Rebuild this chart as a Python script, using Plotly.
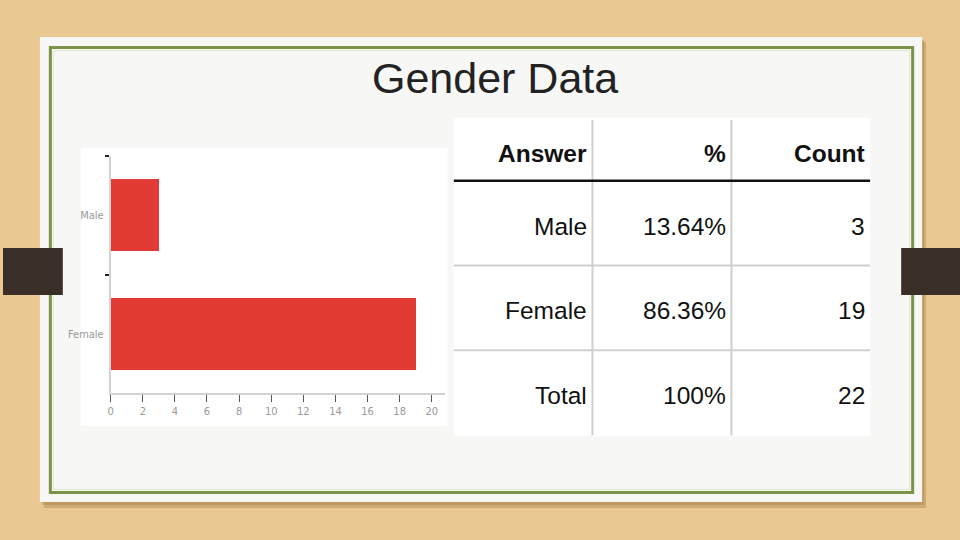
import plotly.graph_objects as go

# ---------------- data ----------------
answers = ["Male", "Female"]
counts = [3, 19]
x_ticks = [0, 2, 4, 6, 8, 10, 12, 14, 16, 18, 20]

table_header = ["Answer", "%", "Count"]
table_answer = ["Male", "Female", "Total"]
table_pct = ["13.64%", "86.36%", "100%"]
table_count = ["3", "19", "22"]

title_text = "Gender Data"

# ---------------- helpers ----------------
W, H = 960, 540


def px(x):
    return x / W


def py(y):
    return 1 - y / H


def rect(x0, y0, x1, y1, fill=None, line=None, lw=0, layer="below"):
    d = dict(type="rect", xref="paper", yref="paper",
             x0=px(x0), x1=px(x1), y0=py(y1), y1=py(y0), layer=layer,
             line=dict(width=lw, color=line or "rgba(0,0,0,0)"))
    if fill:
        d["fillcolor"] = fill
    return d


shapes = []
# panel shadow
shapes.append(rect(41, 42, 926, 508, fill="rgba(160,120,60,0.35)"))
shapes.append(rect(39, 40, 924, 505, fill="rgba(160,120,60,0.35)"))
# panel
shapes.append(rect(37, 37, 922, 502, fill="#f7f7f6"))
# green frame
shapes.append(rect(47.5, 47.5, 912.5, 492.5, line="#7b9346", lw=3))
shapes.append(rect(50.5, 50.5, 909.5, 489.5, line="#dfe8cf", lw=1))
# side tabs
shapes.append(rect(0, 248, 60, 295, fill="#3a2e28"))
shapes.append(rect(901, 248, 960, 295, fill="#3a2e28"))
# chart image white box
shapes.append(rect(78, 148, 446, 426, fill="#ffffff"))
# table white box
shapes.append(rect(452, 118, 870, 436, fill="#ffffff"))

# table grid, in table axis units (columns 0..3, rows centred on 1,2,3)
hdr_top = 0.5 - 61 / 85
tbl_bottom = 3.5 + 0.5 / 85
for cx in [1, 2]:
    shapes.append(dict(type="line", xref="x2", yref="y2", x0=cx, x1=cx,
                       y0=hdr_top, y1=tbl_bottom, layer="above",
                       line=dict(color="#cfcfcf", width=2)))
for ry in [1.5, 2.5]:
    shapes.append(dict(type="line", xref="x2", yref="y2", x0=0, x1=3,
                       y0=ry, y1=ry, layer="above",
                       line=dict(color="#cfcfcf", width=2)))
shapes.append(dict(type="line", xref="x2", yref="y2", x0=0, x1=3,
                   y0=0.5, y1=0.5, layer="above",
                   line=dict(color="#111111", width=2.5)))

# ---------------- figure ----------------
fig = go.Figure()
fig.add_trace(go.Bar(
    x=counts, y=answers, orientation="h", width=0.61,
    marker=dict(color="#e23b36", line=dict(width=0)),
    hoverinfo="skip", xaxis="x", yaxis="y", showlegend=False))

annotations = []
annotations.append(dict(text=title_text, x=px(494), y=py(78), xref="paper",
                        yref="paper", xanchor="center", yanchor="middle",
                        yshift=0, showarrow=False,
                        font=dict(family="Liberation Sans, Arial, sans-serif",
                                  size=43, color="#222222")))

tfont = "Liberation Sans, Arial, sans-serif"
for ci, h in enumerate(table_header):
    annotations.append(dict(text="<b>" + h + "</b>", x=ci + 1, y=(hdr_top + 0.5) / 2,
                            xref="x2", yref="y2", xanchor="right", yanchor="middle",
                            xshift=-3, yshift=-3, showarrow=False,
                            font=dict(family=tfont, size=24.5, color="#111111")))
for ci, col in enumerate([table_answer, table_pct, table_count]):
    for ri, v in enumerate(col):
        annotations.append(dict(text=v, x=ci + 1, y=ri + 1,
                                xref="x2", yref="y2", xanchor="right", yanchor="middle",
                                xshift=-3, yshift=-3, showarrow=False,
                                font=dict(family=tfont, size=24.5, color="#111111")))

narrow = "Liberation Sans Narrow, DejaVu Sans Condensed, Arial Narrow, sans-serif"
fig.update_layout(
    width=W, height=H,
    margin=dict(l=0, r=0, t=0, b=0),
    paper_bgcolor="#e9c892",
    plot_bgcolor="rgba(0,0,0,0)",
    shapes=shapes,
    annotations=annotations,
    showlegend=False,
    bargap=0,
    xaxis=dict(domain=[px(108), px(443)], range=[0, 20.8], anchor="y",
               tickvals=x_ticks, ticktext=[str(t) for t in x_ticks],
               showgrid=False, zeroline=False, showline=True,
               linecolor="#d2d2d2", linewidth=1.5,
               ticks="outside", ticklen=7, tickwidth=1, tickcolor="#555555",
               tickfont=dict(family=narrow, size=11, color="#999999"),
               fixedrange=True),
    yaxis=dict(domain=[py(393), py(156)], type="category",
               categoryorder="array", categoryarray=answers,
               range=[1.5, -0.5], anchor="x",
               showgrid=False, zeroline=False, showline=True,
               linecolor="#d2d2d2", linewidth=1.5,
               ticks="outside", tickson="boundaries", ticklen=4,
               tickwidth=1.5, tickcolor="#222222", ticklabelstandoff=3,
               tickfont=dict(family=narrow, size=11, color="#999999"),
               fixedrange=True),
    xaxis2=dict(domain=[px(452), px(870)], range=[0, 3], anchor="y2",
                visible=False, fixedrange=True),
    yaxis2=dict(domain=[py(435.5), py(120)], range=[tbl_bottom, hdr_top],
                anchor="x2", visible=False, fixedrange=True),
)

fig.write_html("out.html", config={"displayModeBar": False},
               post_script="document.body.style.margin='0';"
                           "document.body.style.overflow='hidden';")
